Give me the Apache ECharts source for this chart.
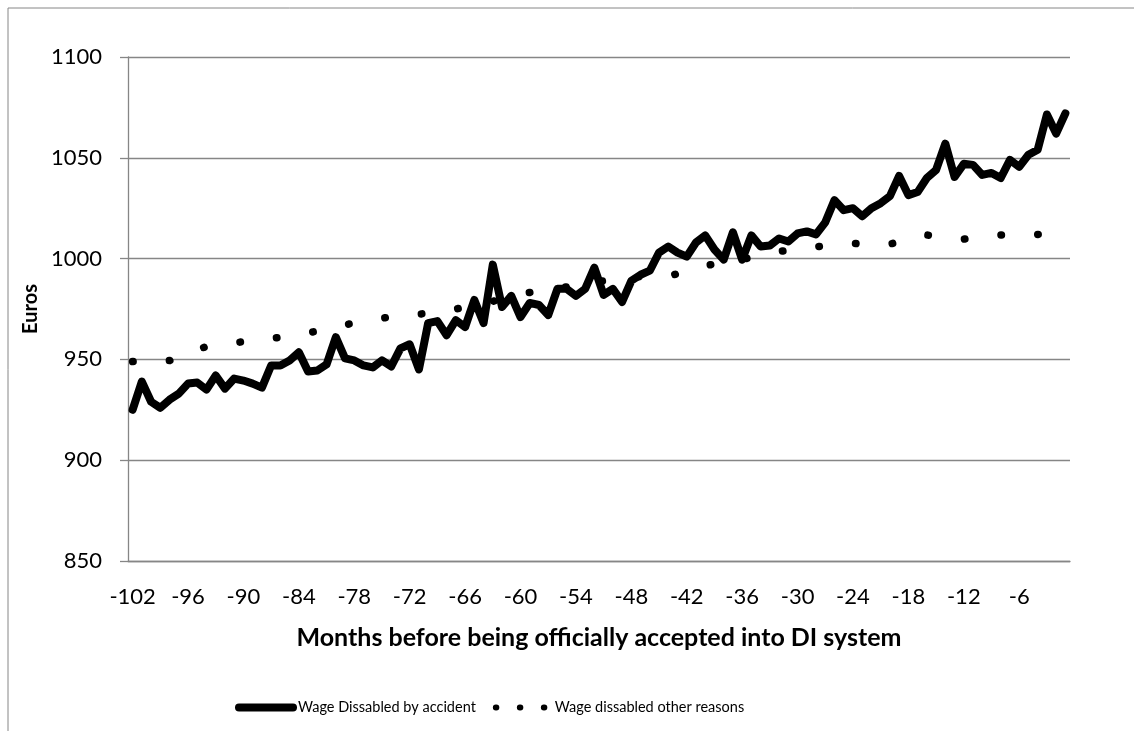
<!DOCTYPE html>
<html>
<head>
<meta charset="utf-8">
<script src="https://cdn.jsdelivr.net/npm/echarts@6/dist/echarts.min.js"></script>
<style>
  html, body { margin: 0; padding: 0; background: #fff; }
  #main { width: 1134px; height: 731px; }
</style>
</head>
<body>
<div id="main"></div>
<script>
// months before acceptance, -102 .. -1
var months = [];
for (var m = -102; m <= -1; m++) months.push(String(m));

// Wage Dissabled by accident (monthly)
var wageAccident = [
  925, 939, 929, 926, 930, 933, 938, 938.5, 935, 942,
  935.5, 940.5, 939.5, 938, 936, 947, 947, 949.5, 953.5, 944,
  944.5, 947.5, 961, 950.5, 949.5, 947, 946, 949.5, 946.5, 955.5,
  957.5, 945, 968, 969, 962, 969.5, 966, 979.5, 968, 997,
  976, 981.5, 971, 978, 977, 972, 985, 985, 981.5, 985,
  995.5, 982, 985, 978.5, 989, 992, 994, 1003, 1006, 1003,
  1001, 1008, 1011.5, 1004.5, 999.5, 1013, 999.5, 1011.5, 1006, 1006.5,
  1010, 1008.5, 1012.5, 1013.5, 1012, 1018, 1029, 1024, 1025, 1021,
  1025, 1027.5, 1031, 1041, 1031.5, 1033, 1040, 1044, 1057, 1040.5,
  1047, 1046.5, 1041.5, 1042.5, 1040, 1049, 1045.5, 1051.5, 1054, 1071.5,
  1062, 1072
];

// Wage dissabled other reasons (monthly)
var wageOther = [
  948.9, 949, 949.1, 949.2, 949.4, 951, 953, 955, 956.3, 957,
  957.6, 958.2, 958.8, 959.3, 959.8, 960.4, 961, 961.8, 962.5, 963.2,
  964, 965.1, 966.2, 967.2, 968, 968.9, 969.7, 970.5, 971, 971.5,
  972, 972.4, 973, 973.6, 974.2, 975, 976, 977, 977.8, 978.8,
  980, 981.2, 982.6, 983.2, 984, 984.6, 985.2, 986, 986.8, 987.6,
  988.3, 989, 989.6, 990.2, 991, 991, 991, 991, 991.2, 992.5,
  993.8, 995.2, 996.5, 997.3, 998, 998.8, 999.6, 1000.6, 1001.6, 1002.6,
  1003.5, 1004.2, 1004.8, 1005.4, 1005.9, 1006.3, 1006.7, 1007.1, 1007.5, 1007.4,
  1007.3, 1007.2, 1007.2, 1008.3, 1009.4, 1010.6, 1011.7, 1011.2, 1010.7, 1010.2,
  1009.7, 1010.2, 1010.7, 1011.2, 1011.7, 1011.8, 1011.9, 1012, 1012, 1012.1,
  1012.1, 1012.2
];

var seriesNames = ['Wage Dissabled by accident', 'Wage dissabled other reasons'];
var gray = '#868686';
var font = 'Lato, "Open Sans", sans-serif';

var myChart = echarts.init(document.getElementById('main'));
var option = {
  animation: false,
  backgroundColor: '#fff',
  textStyle: { fontFamily: font, color: '#000' },
  grid: { left: 128, right: 64, top: 57, bottom: 170 },
  graphic: [{
    type: 'polyline',
    shape: { points: [[8, 731], [8, 8], [1134, 8]] },
    style: { stroke: gray, lineWidth: 1, fill: null }
  }],
  legend: {
    left: 230,
    top: 695,
    itemWidth: 54,
    itemHeight: 10,
    itemGap: 17,
    textStyle: { fontFamily: font, fontSize: 14.5, color: '#000' },
    data: [
      { name: seriesNames[0], lineStyle: { width: 8, cap: 'round' }, itemStyle: { opacity: 0 } },
      { name: seriesNames[1], lineStyle: { width: 6, type: [0.5, 23.5], cap: 'round' }, itemStyle: { opacity: 0 } }
    ]
  },
  xAxis: {
    type: 'category',
    data: months,
    boundaryGap: true,
    name: 'Months before being officially accepted into DI system',
    nameLocation: 'middle',
    nameGap: 64,
    nameTextStyle: { fontFamily: font, fontSize: 25, fontWeight: 'bold', color: '#000' },
    axisLine: { lineStyle: { color: gray, width: 1.3 } },
    axisTick: { interval: 5, length: 8, lineStyle: { color: gray, width: 1.3 } },
    axisLabel: { interval: 5, fontSize: 22, color: '#000', margin: 25 },
    splitLine: { show: false }
  },
  yAxis: {
    type: 'value',
    min: 850,
    max: 1100,
    interval: 50,
    name: 'Euros',
    nameLocation: 'middle',
    nameGap: 78,
    nameTextStyle: { fontFamily: font, fontSize: 20, fontWeight: 'bold', color: '#000' },
    axisLine: { show: true, lineStyle: { color: gray, width: 1.3 } },
    axisTick: { show: true, length: 8, lineStyle: { color: gray, width: 1.3 } },
    axisLabel: { fontSize: 22, color: '#000', margin: 26, formatter: function (v) { return String(v); } },
    splitLine: { lineStyle: { color: gray, width: 1.3 } }
  },
  series: [
    {
      name: seriesNames[0],
      type: 'line',
      data: wageAccident,
      symbol: 'none',
      lineStyle: { color: '#000', width: 8, join: 'round', cap: 'round' },
      itemStyle: { color: '#000' }
    },
    {
      name: seriesNames[1],
      type: 'line',
      data: wageOther,
      symbol: 'none',
      lineStyle: { color: '#000', width: 7.5, type: [0.5, 36.25], cap: 'round' },
      itemStyle: { color: '#000' }
    }
  ]
};
myChart.setOption(option);
</script>
</body>
</html>
